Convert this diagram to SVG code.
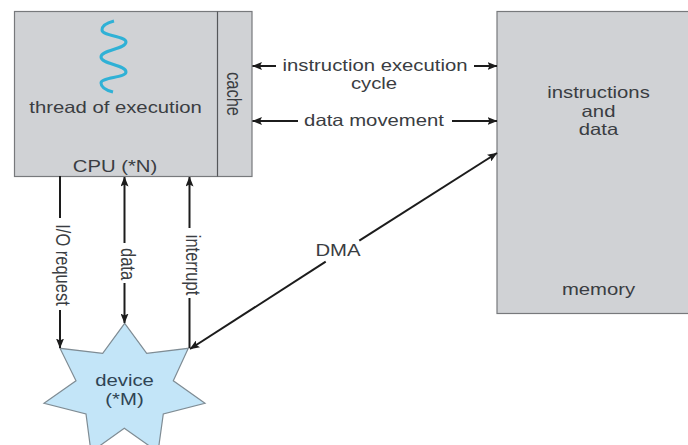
<svg xmlns="http://www.w3.org/2000/svg" width="688" height="445" viewBox="0 0 688 445">
<style>
text{font-family:"Liberation Sans",Arial,sans-serif;font-size:16.5px;fill:#3a3d42;text-anchor:middle}
text.d{fill:#2f4454}
.box{fill:#d0d2d5;stroke:#77797c;stroke-width:1.2}
.c{fill:none;stroke:#1c1c1c;stroke-width:2}
</style>
<defs>
<marker id="a" viewBox="0 0 10 8" refX="9.500" refY="4" markerWidth="10" markerHeight="8" markerUnits="userSpaceOnUse" orient="auto-start-reverse"><path d="M0 0L10 4L0 8L2 4Z" fill="#1c1c1c"/></marker>
</defs>
<rect width="688" height="445" fill="#fff"/>
<g id="cpu">
<rect class="box" x="14.500" y="11.500" width="237.500" height="165"/>
<path d="M217.500 11.500V176.500" fill="none" stroke="#55575a" stroke-width="1.200"/>
<path d="M114 21Q102 24 102 30C102 36 126 36 126 42C126 49 101 50 101 57C101 64 126 65 126 72C126 78 101 77 101 83Q101 89 113 92" fill="none" stroke="#2fb1d6" stroke-width="3"/>
<text transform="translate(115.500 113) scale(1.230 1)">thread of execution</text>
<text transform="translate(115 172) scale(1.230 1)">CPU (*N)</text>
<text transform="translate(226.500 94) rotate(90) scale(1 1.230)">cache</text>
</g>
<g id="memory">
<rect class="box" x="497" y="11.500" width="195" height="302"/>
<text transform="translate(598.500 98) scale(1.230 1)">instructions</text>
<text transform="translate(598.500 117) scale(1.230 1)">and</text>
<text transform="translate(598.500 135) scale(1.230 1)">data</text>
<text transform="translate(598.500 295) scale(1.230 1)">memory</text>
</g>
<g id="device">
<path d="M124.700 323.300L146.700 353.300L188.300 348.300L173.300 380.700L205 403.300L163.300 414L158 452L124.300 428.300L91 452L86 414L44 403.300L76 380.700L60 348.300L102.700 353.300Z" fill="#c3e5f8" stroke="#7f8c94" stroke-width="1.200"/>
<text class="d" transform="translate(124.500 386) scale(1.230 1)">device</text>
<text class="d" transform="translate(124.500 405) scale(1.230 1)">(*M)</text>
</g>
<g id="connectors">
<path class="c" d="M276 66H252.500" marker-end="url(#a)"/>
<path class="c" d="M474 66H497" marker-end="url(#a)"/>
<path class="c" d="M298 121H252.500" marker-end="url(#a)"/>
<path class="c" d="M452 121H497" marker-end="url(#a)"/>
<path class="c" d="M60 176V218"/>
<path class="c" d="M60 310V348" marker-end="url(#a)"/>
<path class="c" d="M124.500 243V177" marker-end="url(#a)"/>
<path class="c" d="M124.500 283V323" marker-end="url(#a)"/>
<path class="c" d="M189.500 228V177" marker-end="url(#a)"/>
<path class="c" d="M189.500 298V348"/>
<path class="c" d="M325.700 261.700L190 349" marker-end="url(#a)"/>
<path class="c" d="M359.300 240.700L497 153" marker-end="url(#a)"/>
</g>
<g id="labels">
<text transform="translate(375 71) scale(1.230 1)">instruction execution</text>
<text transform="translate(374 89) scale(1.230 1)">cycle</text>
<text transform="translate(374 126) scale(1.230 1)">data movement</text>
<text transform="translate(338 256) scale(1.230 1)">DMA</text>
<text transform="translate(56 265) rotate(90) scale(1 1.230)">I/O request</text>
<text transform="translate(120.700 264) rotate(90) scale(1 1.230)">data</text>
<text transform="translate(186 265) rotate(90) scale(1 1.230)">interrupt</text>
</g>
</svg>
